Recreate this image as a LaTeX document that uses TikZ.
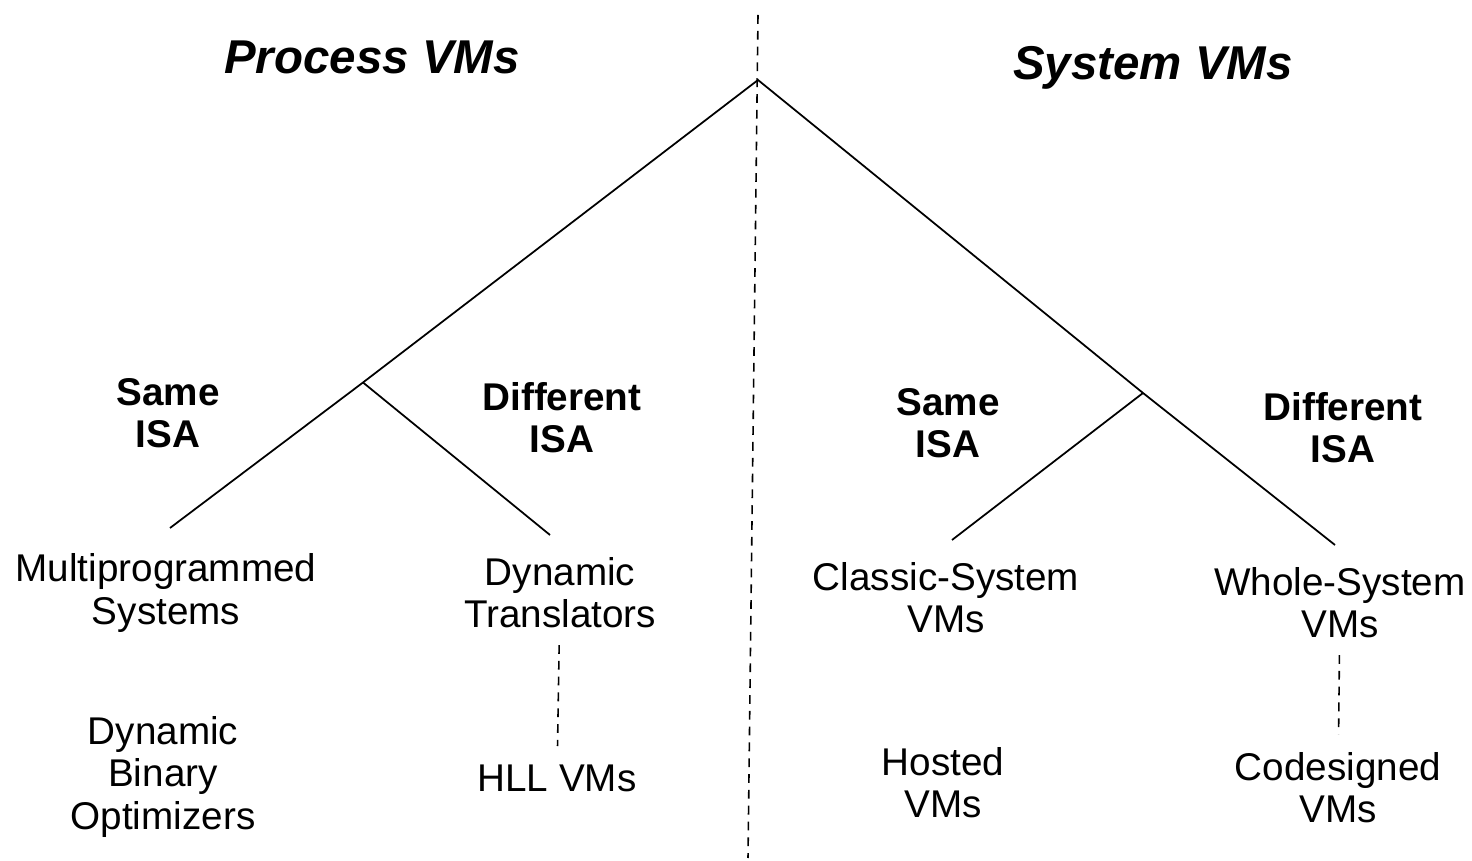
\documentclass[tikz,border=0pt]{standalone}
\usepackage{fontspec}
\setmainfont{Liberation Sans}
\usepackage{tikz}

\begin{document}
\begin{tikzpicture}[
  branch/.style={black,line width=1pt},
  divider/.style={black,line width=0.9pt,dash pattern=on 5pt off 4pt},
  link/.style={black,line width=0.9pt,dash pattern=on 5pt off 4pt,shorten >=7pt,shorten <=6pt},
  title/.style={font=\fontsize{27}{30}\selectfont\bfseries\itshape},
  isa/.style={align=center,font=\fontsize{22}{24}\selectfont\bfseries},
  leaf/.style={align=center,font=\fontsize{22}{24}\selectfont}]
\useasboundingbox (0,0) rectangle (29.44,17.2);
% headings
\node [title] (pvm) at (7.44,16.06) {Process VMs};
\node [title] (svm) at (23.06,15.84) {System VMs};
% divider
\coordinate (dtop) at (15.16,16.9);
\coordinate (dbot) at (14.96,0.04);
\draw [divider] (dtop) -- (dbot);
% tree
\coordinate (root) at (15.16,15.6);
\coordinate (pj) at (7.26,9.55);
\coordinate (sj) at (22.86,9.34);
\coordinate (mpend) at (3.4,6.64);
\coordinate (dtend) at (11.0,6.5);
\coordinate (csend) at (19.04,6.4);
\coordinate (wsend) at (26.7,6.3);
\draw [branch] (mpend) -- (pj) -- (root) -- (sj) -- (wsend);
\draw [branch] (pj) -- (dtend);
\draw [branch] (sj) -- (csend);
% ISA labels
\node [isa] (psame) at (3.36,8.94) {Same\\ISA};
\node [isa] (pdiff) at (11.24,8.84) {Different\\ISA};
\node [isa] (ssame) at (18.96,8.74) {Same\\ISA};
\node [isa] (sdiff) at (26.86,8.64) {Different\\ISA};
% leaves
\node [leaf] (mp) at (3.32,5.34) {Multiprogrammed\\Systems};
\node [leaf] (dt) at (11.2,5.34) {Dynamic\\Translators};
\node [leaf] (cs) at (18.92,5.24) {Classic-System\\VMs};
\node [leaf] (ws) at (26.8,5.14) {Whole-System\\VMs};
\node [leaf] (dbo) at (3.26,1.66) {Dynamic\\Binary\\Optimizers};
\node [leaf] (hll) at (11.14,1.64) {HLL VMs};
\node [leaf] (hv) at (18.86,1.54) {Hosted\\VMs};
\node [leaf] (cd) at (26.76,1.44) {Codesigned\\VMs};
\draw [link] (dt) -- (hll);
\draw [link] (ws) -- (cd);
\end{tikzpicture}
\end{document}
